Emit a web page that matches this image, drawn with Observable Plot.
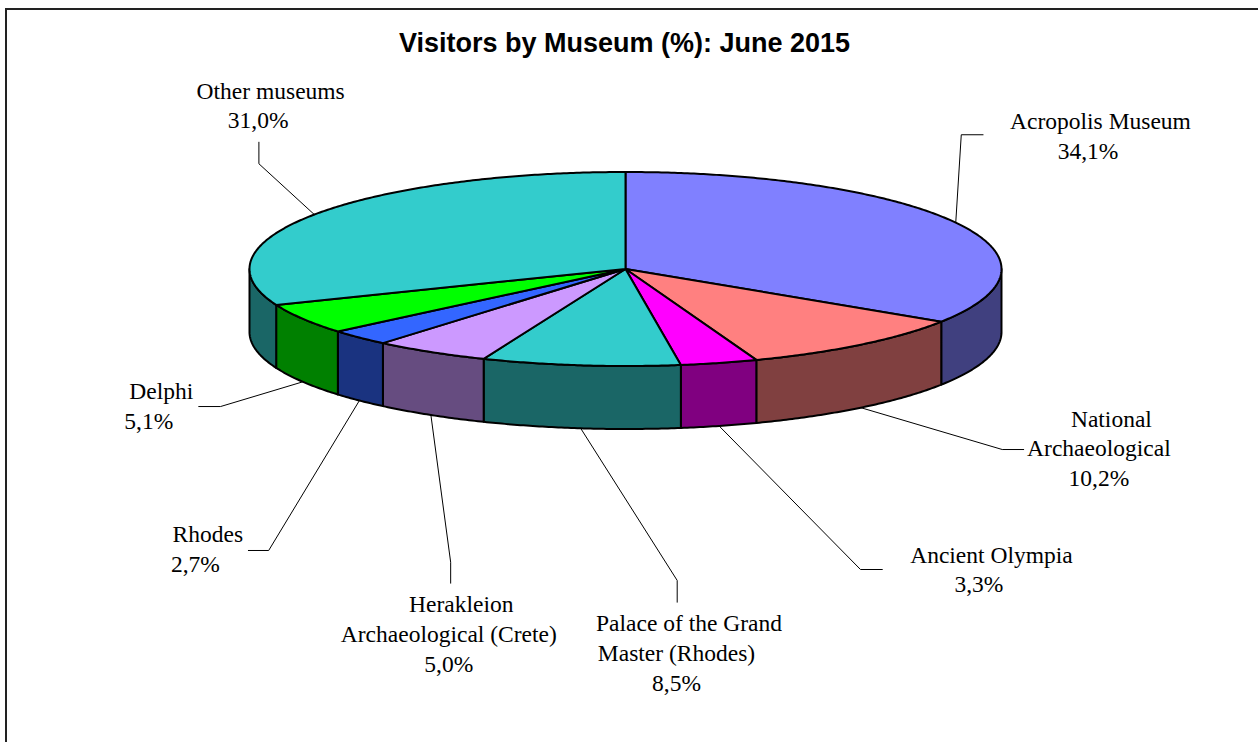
<!DOCTYPE html>
<html>
<head>
<meta charset="utf-8">
<script src="https://cdn.jsdelivr.net/npm/d3@7"></script>
<script src="https://cdn.jsdelivr.net/npm/@observablehq/plot@0.6"></script>
<style>
  body { margin: 0; background: #fff; }
  #wrap { position: relative; width: 1258px; height: 742px; overflow: hidden; background: #fff; }
  #wrap svg { position: absolute; left: 0; top: 0; }
  #frame { position: absolute; left: 5px; top: 8px; width: 1300px; height: 800px;
           border-left: 2px solid #222; border-top: 2px solid #222; pointer-events: none; }
</style>
</head>
<body>
<div id="wrap"><div id="frame"></div></div>
<script>
// ---- data ----
const title = "Visitors by Museum (%): June 2015";
const museums = [
  "Acropolis Museum",
  "National Archaeological",
  "Ancient Olympia",
  "Palace of the Grand Master (Rhodes)",
  "Herakleion Archaeological (Crete)",
  "Rhodes",
  "Delphi",
  "Other museums"
];
const shares = [34.1, 10.2, 3.3, 8.5, 5.0, 2.7, 5.1, 31.0];
const labelLines = [
  ["Acropolis Museum"],
  ["National", "Archaeological"],
  ["Ancient Olympia"],
  ["Palace of the Grand", "Master (Rhodes)"],
  ["Herakleion", "Archaeological (Crete)"],
  ["Rhodes"],
  ["Delphi"],
  ["Other museums"]
];

// ---- styles ----
const topColors  = ["#8080FF", "#FF8080", "#FF00FF", "#33CCCC", "#CC99FF", "#3366FF", "#00FF00", "#33CCCC"];
const sideColors = ["#40407F", "#804040", "#800080", "#1A6666", "#664C80", "#1A3380", "#008000", "#1A6666"];

// ---- layout (in pie units: x in horizontal radii, y in vertical radii) ----
const depth = 63 / 97;
const labelPos = [
  [1.230, -1.445], [1.259, 1.624], [0.940, 3.029], [0.1356, 3.734],
  [-0.470, 3.538], [-1.144, 2.816], [-1.268, 1.345], [-0.977, -1.755]
];
const leaderElbows = [
  [[0.951, -1.384], [0.893, -1.384]],
  [[1.059, 1.861], [1.002, 1.861]],
  [[0.683, 3.098], [0.625, 3.098]],
  [[0.1375, 3.435], [0.1375, 3.211]],
  [[-0.465, 3.239], [-0.465, 3.023]],
  [[-1.003, 2.902], [-0.949, 2.902]],
  [[-1.135, 1.418], [-1.077, 1.418]],
  [[-0.975, -1.307], [-0.975, -1.085]]
];

// ---- geometry from values ----
const pie = d3.pie().sort(null).startAngle(0).endAngle(2 * Math.PI)(shares);
const pt = (a, drop) => ({x: Math.sin(a), y: -Math.cos(a) + drop});
function arcPts(a0, a1, drop) {
  const n = Math.max(2, Math.ceil((a1 - a0) / (Math.PI / 360)));
  return d3.range(n + 1).map(i => pt(a0 + (a1 - a0) * i / n, drop));
}
const topRows = pie.flatMap((p, i) =>
  [{x: 0, y: 0}, ...arcPts(p.startAngle, p.endAngle, 0), {x: 0, y: 0}]
    .map(q => ({...q, key: museums[i], fill: topColors[i]})));
const sideRows = pie.flatMap((p, i) => {
  const s = Math.max(p.startAngle, Math.PI / 2), e = Math.min(p.endAngle, 3 * Math.PI / 2);
  if (s >= e) return [];
  const pts = [...arcPts(s, e, 0), ...arcPts(s, e, depth).reverse()];
  pts.push(pts[0]);
  return pts.map(q => ({...q, key: museums[i] + " side", fill: sideColors[i]}));
});
const leaderRows = pie.flatMap((p, i) => {
  const m = (p.startAngle + p.endAngle) / 2;
  const edge = pt(m, Math.cos(m) < 0 ? depth : 0);
  const [a, b] = leaderElbows[i];
  return [{x: a[0], y: a[1]}, {x: b[0], y: b[1]}, edge].map(q => ({...q, key: museums[i]}));
});
const fmt = v => v.toFixed(1).replace(".", ",") + "%";
const firstLines = labelLines.map((l, i) => ({x: labelPos[i][0], y: labelPos[i][1], text: l[0]}));
const restLines = labelLines.map((l, i) => ({x: labelPos[i][0], y: labelPos[i][1], text: [...l.slice(1), fmt(shares[i])].join("\n")}));

const serif = "'Liberation Serif', 'Times New Roman', serif";
const chart = Plot.plot({
  width: 1258,
  height: 742,
  margin: 0,
  x: {domain: [-1, 1], range: [625 - 376, 625 + 376], axis: null},
  y: {domain: [-1, 1], range: [268.5 - 97, 268.5 + 97], axis: null},
  color: {type: "identity"},
  marks: [
    Plot.line(sideRows, {x: "x", y: "y", z: "key", fill: "fill", stroke: "#000", strokeWidth: 2, strokeLinejoin: "round"}),
    Plot.line(topRows, {x: "x", y: "y", z: "key", fill: "fill", stroke: "#000", strokeWidth: 2, strokeLinejoin: "round"}),
    Plot.line(leaderRows, {x: "x", y: "y", z: "key", stroke: "#000", strokeWidth: 1}),
    Plot.text(firstLines, {x: "x", y: "y", text: "text", dx: 12.5, lineAnchor: "bottom", fontSize: 23.5, fontFamily: serif, fill: "#000"}),
    Plot.text(restLines, {x: "x", y: "y", text: "text", dy: 8.6, lineAnchor: "top", lineHeight: 1.264, fontSize: 23.5, fontFamily: serif, fill: "#000"}),
    Plot.text([title], {frameAnchor: "top", text: d => d, dx: -5, dy: 51, lineAnchor: "bottom", fontSize: 27, fontWeight: "bold", fontFamily: "'Liberation Sans', Arial, sans-serif", fill: "#000"})
  ]
});
document.getElementById("wrap").prepend(chart);
</script>
</body>
</html>
